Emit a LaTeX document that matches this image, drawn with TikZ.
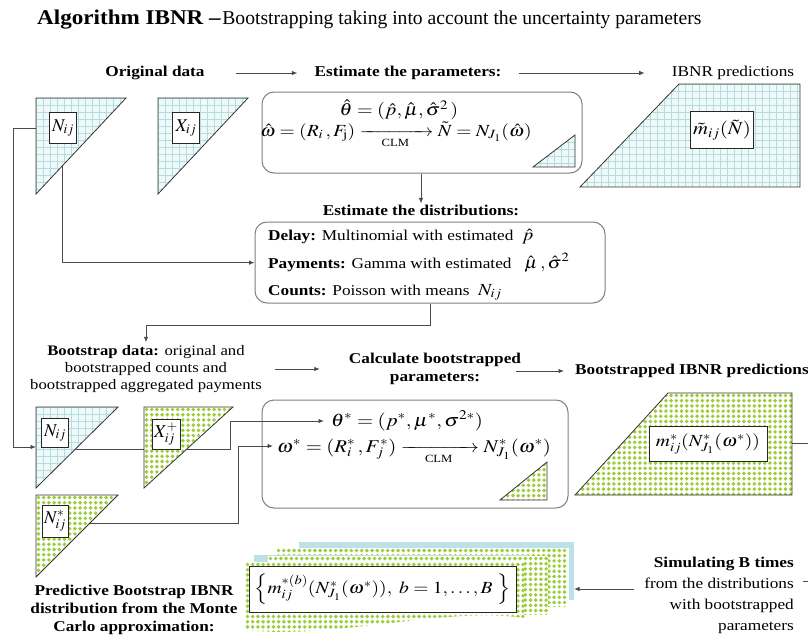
\documentclass[tikz,border=0pt]{standalone}
\usepackage{amsmath}
\usepackage{mathptmx}
\usepackage[no-math]{fontspec}
\setmainfont{Liberation Serif}
\usepackage{graphicx}
\usetikzlibrary{arrows.meta}
\definecolor{gbg}{HTML}{F0F9F9}
\definecolor{gln}{HTML}{B4DEDE}
\definecolor{ygr}{HTML}{9DCD3A}
\definecolor{cardblue}{HTML}{BDE1E9}
\definecolor{lnc}{HTML}{4A4A4A}
\definecolor{boxc}{HTML}{7F7F7F}
\newcommand{\myhx}[1]{\scalebox{1.15}[1]{#1}}
\newcommand{\myfs}[2]{\fontsize{#1}{#2}\selectfont}
\newcommand{\bgrid}[5]{%
 \begin{scope}
 \clip #1;
 \fill[gbg] (#2,#3) rectangle (#4,#5);
 \foreach \i in {0,...,34}{\draw[gln,line width=0.5pt] ({#2+\i*7},#3) -- ({#2+\i*7},#5);}
 \foreach \i in {0,...,16}{\draw[gln,line width=0.5pt] (#2,{#3+\i*7}) -- (#4,{#3+\i*7});}
 \end{scope}}
\newcommand{\gdots}[5]{%
 \begin{scope}
 \clip #1;
 \fill[white] (#2,#3) rectangle (#4,#5);
 \foreach \i in {0,...,22}{\draw[ygr,line width=3.9pt,line cap=round,dash pattern=on 0pt off 5.2pt] ({#2+2.5},{#3+2.5+\i*5.2}) -- (#4,{#3+2.5+\i*5.2});}
 \end{scope}}
\begin{document}
\begin{tikzpicture}[x=1pt,y=-1pt,
 tri/.style={draw=black!80,line width=0.8pt},
 ln/.style={draw=lnc,line width=0.9pt},
 arr/.style={draw=lnc,line width=0.9pt,-{Latex[length=5.5pt,width=4.5pt]}},
 rbox/.style={draw=boxc,line width=1pt,rounded corners=12pt,inner sep=0pt},
 lbl/.style={draw=black!85,fill=white,line width=0.8pt,inner sep=1pt},
 tx/.style={inner sep=1pt}]
\useasboundingbox (0,0) rectangle (808,642);
\clip (0,0) rectangle (808,642);

% ---------- title
\node[anchor=base west,inner sep=0] (title) at (37,25) {\scalebox{1.1}[1]{\myfs{21}{24}\bfseries Algorithm IBNR --}\,\myfs{19.6}{24}Bootstrapping taking into account the uncertainty parameters};

% ---------- top headings
\node[tx] (orig) at (155,73) {\myhx{\myfs{15}{18}\bfseries Original data}};
\node[tx] (estp) at (408,73) {\myhx{\myfs{15}{18}\bfseries Estimate the parameters:}};
\node[tx] (ibnr) at (733,73) {\myhx{\myfs{15}{18}IBNR predictions}};
\draw[arr,shorten <=30pt,shorten >=16pt] (orig) -- (estp);
\draw[arr,shorten <=16pt,shorten >=26pt] (estp) -- (ibnr);

% ---------- parameter box
\node[rbox,minimum width=320pt,minimum height=81pt] (pbox) at (422,132.5) {};
\node[inner sep=0] (th) at (399,110) {\myhx{\myfs{17.5}{19}$\hat\theta=(\hat p,\hat\mu,\hat\sigma^2\,)$}};
\node[inner sep=0,anchor=base] (om) at (396,136) {\myhx{\myfs{17}{19}$\hat\omega=(R_i\,,F_{\mathrm j})\xrightarrow[\text{\myfs{11}{12}CLM}]{\hspace{3.2em}}\tilde N=N_{J_1}(\hat\omega)$}};
\bgrid{(533,167) -- (575,167) -- (575,135) -- cycle}{533}{135}{575}{167}
\draw[tri] (533,167) -- (575,167) -- (575,135) -- cycle;

\node[tx] (estd) at (421,210) {\myhx{\myfs{15}{18}\bfseries Estimate the distributions:}};
\draw[arr] (estd.north |- pbox.south) -- (estd.north);

% ---------- distributions box
\node[rbox,minimum width=350pt,minimum height=81pt] (dbox) at (430,262.5) {};
\node[anchor=base west,inner sep=0] (dly) at (268,240) {\myhx{\myfs{15}{18}\textbf{Delay:} Multinomial with estimated\ \ \myfs{17}{18}$\hat p$}};
\node[anchor=base west,inner sep=0] (pay) at (268,268) {\myhx{\myfs{15}{18}\textbf{Payments:} Gamma with estimated\ \ \ \myfs{17}{18}$\hat\mu\,,\hat\sigma^2$}};
\node[anchor=base west,inner sep=0] (cnt) at (268,295) {\myhx{\myfs{15}{18}\textbf{Counts:} Poisson with means\ \ \myfs{17}{18}$N_{ij}$}};

% ---------- IBNR predictions trapezoid
\bgrid{(679,84) -- (800,84) -- (800,187) -- (580,187) -- cycle}{580}{84}{800}{187}
\draw[tri] (679,84) -- (800,84) -- (800,187) -- (580,187) -- cycle;
\node[lbl,minimum width=63pt,minimum height=37pt] (mt) at (722,130) {\myhx{\myfs{18}{20}$\tilde m_{ij}(\tilde N)$}};

% ---------- bootstrap headings
\node[tx] (bsd) at (146,369) {\myhx{\myfs{14.5}{17}\begin{tabular}{@{}c@{}}\textbf{Bootstrap data:} original and\\ bootstrapped counts and\\ bootstrapped aggregated payments\end{tabular}}};
\node[tx] (calc) at (435,369) {\myhx{\myfs{15}{18}\bfseries\begin{tabular}{@{}c@{}}Calculate bootstrapped\\ parameters:\end{tabular}}};
\node[tx] (bip) at (692,371) {\myhx{\myfs{15}{18}\bfseries Bootstrapped IBNR predictions}};
\draw[arr,shorten <=12pt,shorten >=28pt] (bsd.east |- calc.west) -- (calc.west);
\draw[arr,shorten <=-6pt,shorten >=10pt] (calc.east |- bip.west) -- (bip.west);

% ---------- bootstrapped parameter box
\node[rbox,minimum width=306pt,minimum height=108pt] (bpbox) at (415,454) {};
\node[inner sep=1pt] (thst) at (407,421) {\myhx{\myfs{18}{19}$\theta^*=(p^*,\mu^*,\sigma^{2*})$}};
\node[inner sep=1pt,anchor=base] (omst) at (414,452) {\myhx{\myfs{18}{19}$\omega^*=(R_i^*\,,F_j^*)\xrightarrow[\text{\myfs{11}{12}CLM}]{\hspace{3.2em}}N^*_{J_1}(\omega^*)$}};
\gdots{(500,500) -- (547,500) -- (547,462) -- cycle}{500}{462}{547}{500}
\draw[tri] (500,500) -- (547,500) -- (547,462) -- cycle;

% ---------- connectors
\coordinate (nTopIn) at (36,128);
\coordinate (nTopHyp) at (62,166);
\coordinate (n2In) at (36,447);
\coordinate (n2Hyp) at (75.5,449);
\coordinate (nsHyp) at (90,523);
\coordinate (t2R) at (792,443);
\coordinate (stackR) at (574,589);
\coordinate (simR) at (803,581);
\coordinate (thIn) at (324,421);
\coordinate (omIn) at (273,446);
\draw[arr] (nTopHyp) |- (dbox.west |- pay.west);
\draw[arr] (nTopIn) -- ++(-23,0) |- (n2In);
\draw[arr] (dbox.south) -- ++(0,22) -| (bsd.north);
\draw[arr] (n2Hyp) -- (230,449) |- (thIn);
\draw[arr] (nsHyp) -- (238,523) |- (omIn);
\draw[ln] (t2R) -- (845,443) |- (simR);

% ---------- top triangles
\bgrid{(36,98) -- (126,98) -- (36,194) -- cycle}{36}{98}{126}{194}
\draw[tri] (36,98) -- (126,98) -- (36,194) -- cycle;
\node[lbl,minimum width=27pt,minimum height=31pt] (nl) at (63,128) {\myfs{18}{20}$N_{ij}$};
\bgrid{(158,98) -- (248,98) -- (158,194) -- cycle}{158}{98}{248}{194}
\draw[tri] (158,98) -- (248,98) -- (158,194) -- cycle;
\node[lbl,minimum width=27pt,minimum height=31pt] (xl) at (186,128) {\myfs{18}{20}$X_{ij}$};

% ---------- bottom triangles
\bgrid{(36,407) -- (118,407) -- (36,488) -- cycle}{36}{407}{118}{488}
\draw[tri] (36,407) -- (118,407) -- (36,488) -- cycle;
\node[lbl,minimum width=27pt,minimum height=29pt] (n2l) at (55,433) {\myfs{18}{20}$N_{ij}$};
\gdots{(144,407) -- (233,407) -- (144,488) -- cycle}{144}{407}{233}{488}
\draw[tri] (144,407) -- (233,407) -- (144,488) -- cycle;
\node[lbl,minimum width=28pt,minimum height=30pt] (xsl) at (166,434) {\myfs{18}{20}$X^{+}_{ij}$};
\gdots{(36,495) -- (118,495) -- (36,577) -- cycle}{36}{495}{118}{577}
\draw[tri] (36,495) -- (118,495) -- (36,577) -- cycle;
\node[lbl,minimum width=26pt,minimum height=32pt] (nsl) at (55,521) {\myfs{18}{20}$N^{*}_{ij}$};

% ---------- bootstrapped trapezoid
\gdots{(668,393) -- (792,393) -- (792,495) -- (575,495) -- cycle}{575}{393}{792}{495}
\draw[tri] (668,393) -- (792,393) -- (792,495) -- (575,495) -- cycle;
\node[lbl,minimum width=118pt,minimum height=35pt] (mst) at (708,444) {\myhx{\myfs{17}{19}$m^*_{ij}(N^*_{J_1}(\omega^*))$}};

% ---------- stack of cards
\fill[cardblue] (299,542) rectangle (574,600);
\gdots{(276,548) rectangle (569,606)}{276}{548}{569}{606}
\fill[cardblue] (254,555) rectangle (530,612);
\gdots{(268,556) rectangle (548,614)}{268}{556}{548}{614}
\gdots{(245,562) -- (524,562) -- (524,618) .. controls (445,606) and (335,640) .. (245,630) -- cycle}{245}{562}{524}{640}
\node[lbl,minimum width=267pt,minimum height=46pt] (fbox) at (382.5,589) {\myhx{\myfs{17}{19}$\left\{m_{ij}^{*(b)}(N^*_{J_1}(\omega^*)),\ b=1,\ldots,B\ \right\}$}};

% ---------- bottom texts
\node[tx] (pred) at (134,610) {\myhx{\myfs{15}{18}\bfseries\begin{tabular}{@{}c@{}}Predictive Bootstrap IBNR\\ distribution from the Monte\\ Carlo approximation:\end{tabular}}};
\node[anchor=north east,inner sep=0] (sim) at (794,553) {\myhx{\myfs{15}{21}\begin{tabular}{@{}r@{}}\textbf{Simulating B times}\\ from the distributions\\ with bootstrapped\\ parameters\end{tabular}}};
\draw[arr,shorten <=10pt] (sim.west |- stackR) -- (stackR);
\end{tikzpicture}
\end{document}
